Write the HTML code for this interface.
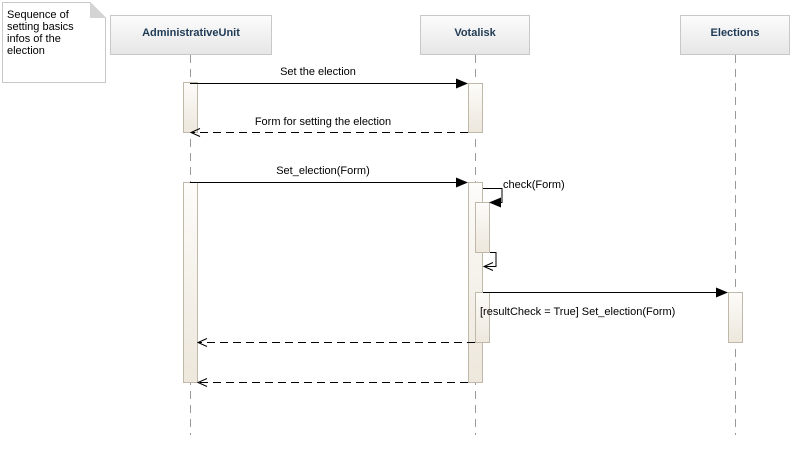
<!DOCTYPE html>
<html><head><meta charset="utf-8"><style>
html,body{margin:0;padding:0;background:#fff;width:809px;height:470px;overflow:hidden}
text{font-family:"Liberation Sans",sans-serif;font-size:11px;fill:#000}
.h{font-weight:bold;fill:#1f3a55;font-size:11px}
</style></head><body>
<svg width="809" height="470" viewBox="0 0 809 470" xmlns="http://www.w3.org/2000/svg">
<defs>
<linearGradient id="hg" x1="0" y1="0" x2="0" y2="1"><stop offset="0" stop-color="#fcfcfc"/><stop offset="1" stop-color="#e6e6e6"/></linearGradient>
<linearGradient id="ag" x1="0" y1="0" x2="0" y2="1"><stop offset="0" stop-color="#fdfcfa"/><stop offset="1" stop-color="#ede7dc"/></linearGradient>
</defs>
<path d="M2.5 2.5 H90 L105.5 18 V82.5 H2.5 Z" fill="#fff" stroke="#c8c8c8"/>
<path d="M90 2.5 L105.5 18 H90 Z" fill="#d4d4d4"/>
<text x="7" y="18">Sequence of</text>
<text x="7" y="30">setting basics</text>
<text x="7" y="42">infos of the</text>
<text x="7" y="54">election</text>
<rect x="110.5" y="15.5" width="161" height="39" fill="url(#hg)" stroke="#c8c8c8"/>
<text class="h" x="191" y="36" text-anchor="middle">AdministrativeUnit</text>
<rect x="420.5" y="15.5" width="109" height="39" fill="url(#hg)" stroke="#c8c8c8"/>
<text class="h" x="475" y="36" text-anchor="middle">Votalisk</text>
<rect x="680.5" y="15.5" width="109" height="39" fill="url(#hg)" stroke="#c8c8c8"/>
<text class="h" x="735" y="36" text-anchor="middle">Elections</text>
<g stroke="#999" stroke-dasharray="8,6">
<line x1="190.5" y1="55" x2="190.5" y2="435"/>
<line x1="475.5" y1="55" x2="475.5" y2="435"/>
<line x1="735.5" y1="55" x2="735.5" y2="435"/>
</g>
<g fill="url(#ag)" stroke="#c0b8a8">
<rect x="183.5" y="82.5" width="14" height="50"/>
<rect x="468.5" y="83.5" width="14" height="49"/>
<rect x="183.5" y="182.5" width="14" height="200"/>
<rect x="468.5" y="182.5" width="14" height="200"/>
<rect x="475.5" y="202.5" width="14" height="50"/>
<rect x="475.5" y="292.5" width="14" height="50"/>
<rect x="728.5" y="292.5" width="14" height="50"/>
</g>
<g stroke="#000" fill="none">
<line x1="190" y1="83.5" x2="458" y2="83.5"/>
<line x1="190" y1="182.5" x2="458" y2="182.5"/>
<line x1="483" y1="292.5" x2="718" y2="292.5"/>
<polyline points="483,188.5 502,188.5 502,202.5 498,202.5"/>
<polyline points="490,252.5 496,252.5 496,266.5 484,266.5"/>
</g>
<g fill="#000">
<path d="M468 83.5 L456 78.5 L456 88.5 Z"/>
<path d="M468 182.5 L456 177.5 L456 187.5 Z"/>
<path d="M728 292.5 L716 287.5 L716 297.5 Z"/>
<path d="M489 202.5 L501 197.5 L501 207.5 Z"/>
</g>
<g stroke="#000" fill="none" stroke-dasharray="8,5">
<line x1="468" y1="132.5" x2="192" y2="132.5"/>
<line x1="475" y1="342.5" x2="199" y2="342.5"/>
<line x1="468" y1="382.5" x2="199" y2="382.5"/>
</g>
<g stroke="#000" fill="none">
<polyline points="200,128.5 191,132.5 200,136.5"/>
<polyline points="207,338.5 198,342.5 207,346.5"/>
<polyline points="207,378.5 198,382.5 207,386.5"/>
<polyline points="493,262.5 484,266.5 493,270.5"/>
</g>
<text x="318" y="75" text-anchor="middle">Set the election</text>
<text x="323" y="125" text-anchor="middle">Form for setting the election</text>
<text x="323" y="174" text-anchor="middle">Set_election(Form)</text>
<text x="503" y="188">check(Form)</text>
<text x="480" y="315">[resultCheck = True] Set_election(Form)</text>
</svg>
</body></html>
